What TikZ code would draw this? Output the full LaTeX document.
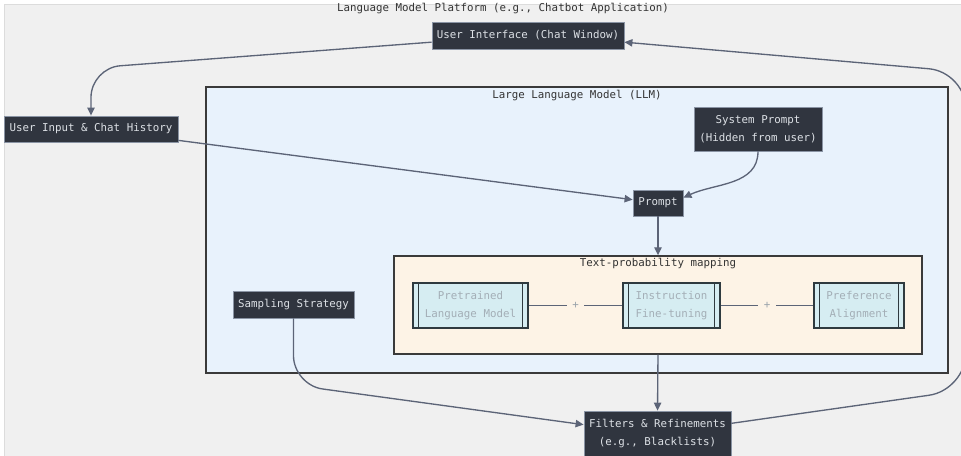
\documentclass[tikz,border=0pt]{standalone}
\usepackage{fontspec}
\setmonofont{DejaVu Sans Mono}
\usetikzlibrary{arrows.meta}
\definecolor{bgc}{HTML}{F0F0F0}
\definecolor{bgline}{HTML}{DCDCDC}
\definecolor{darkfill}{HTML}{30353F}
\definecolor{darkline}{HTML}{8A94A4}
\definecolor{darktext}{HTML}{DDE1E6}
\definecolor{flowc}{HTML}{5C6477}
\definecolor{boxline}{HTML}{3A3A3A}
\definecolor{llmfill}{HTML}{E8F2FC}
\definecolor{tpmfill}{HTML}{FDF3E6}
\definecolor{subfill}{HTML}{D6EDF2}
\definecolor{subline}{HTML}{2F3A3F}
\definecolor{subtext}{HTML}{A3AEB6}
\definecolor{plustext}{HTML}{9AA3AB}
\definecolor{labtext}{HTML}{333333}

\begin{document}
\begin{tikzpicture}[x=0.75pt, y=-0.75pt,
  every node/.style={font=\ttfamily\fontsize{8.1}{13.5}\selectfont, align=center},
  dark/.style={draw=darkline, fill=darkfill, text=darktext, line width=0.6pt},
  group/.style={draw=boxline, line width=1pt},
  subr/.style={draw=subline, fill=subfill, text=subtext, line width=0.9pt, minimum height=33.75pt},
  flow/.style={draw=flowc, line width=1pt, -{Triangle[length=6pt,width=5.5pt]}},
  link/.style={draw=flowc, line width=1pt}]

\useasboundingbox (0,0) rectangle (961,456);
\fill[white] (0,0) rectangle (961,456);
\draw[fill=bgc, draw=bgline] (4,4) rectangle (965,460);

\node[text=labtext] (plat) at (503,9) {Language Model Platform (e.g., Chatbot Application)};
\node[group, fill=llmfill, minimum width=556.5pt, minimum height=214.5pt] (llm) at (577,230) {};
\node[text=labtext] (llmlab) at (577,96) {Large Language Model (LLM)};
\node[group, fill=tpmfill, minimum width=396pt, minimum height=73.5pt] (tpm) at (658,305) {};
\node[text=labtext] (tpmlab) at (658,264) {Text-probability mapping};

\node[dark, minimum width=144pt, minimum height=20.25pt] (ui) at (528,35.5) {User Interface (Chat Window)};
\node[dark, minimum width=130.5pt, minimum height=19.5pt] (uin) at (91,129) {User Input \& Chat History};
\node[dark, minimum width=96pt, minimum height=33pt] (sys) at (758,129) {System Prompt\\(Hidden from user)};
\node[dark, minimum width=37.5pt, minimum height=19.5pt] (prompt) at (658,203) {Prompt};
\node[dark, minimum width=90.75pt, minimum height=20.25pt] (samp) at (293.5,304.5) {Sampling Strategy};
\node[dark, minimum width=110.25pt, minimum height=34.5pt] (filt) at (657.5,434) {Filters \& Refinements\\(e.g., Blacklists)};

\node[subr, minimum width=86.25pt] (pre) at (470.5,305.5) {Pretrained\\Language Model};
\node[subr, minimum width=72.75pt] (ins) at (671.5,305.5) {Instruction\\Fine-tuning};
\node[subr, minimum width=67.5pt] (pref) at (859,305.5) {Preference\\Alignment};
\foreach \n in {pre,ins,pref} {
  \draw[subline, line width=0.9pt] ([xshift=4.5pt]\n.north west) -- ([xshift=4.5pt]\n.south west);
  \draw[subline, line width=0.9pt] ([xshift=-4.5pt]\n.north east) -- ([xshift=-4.5pt]\n.south east);
}

\draw[link] (pre) -- node[fill=tpmfill, text=plustext, inner sep=4pt] {+} (ins);
\draw[link] (ins) -- node[fill=tpmfill, text=plustext, inner sep=4pt] {+} (pref);

\draw[flow, rounded corners=22pt] ([yshift=-5pt]ui.west) -- (91,68) -- (uin.north);
\draw[flow] (uin) -- (prompt);
\draw[flow] (sys.south) to[out=-90, in=25] ([yshift=4pt]prompt.east);
\draw[flow] (prompt.south) -- (tpm.north);
\draw[flow] (tpm.south) -- (filt.north);
\draw[flow, rounded corners=22pt] (samp.south) -- (293.5,385) -- ([yshift=7pt]filt.west);
\draw[flow, rounded corners=28pt] ([yshift=8pt]filt.east) -- (966,390) -- (966,72) -- ([yshift=-5pt]ui.east);
\end{tikzpicture}
\end{document}
